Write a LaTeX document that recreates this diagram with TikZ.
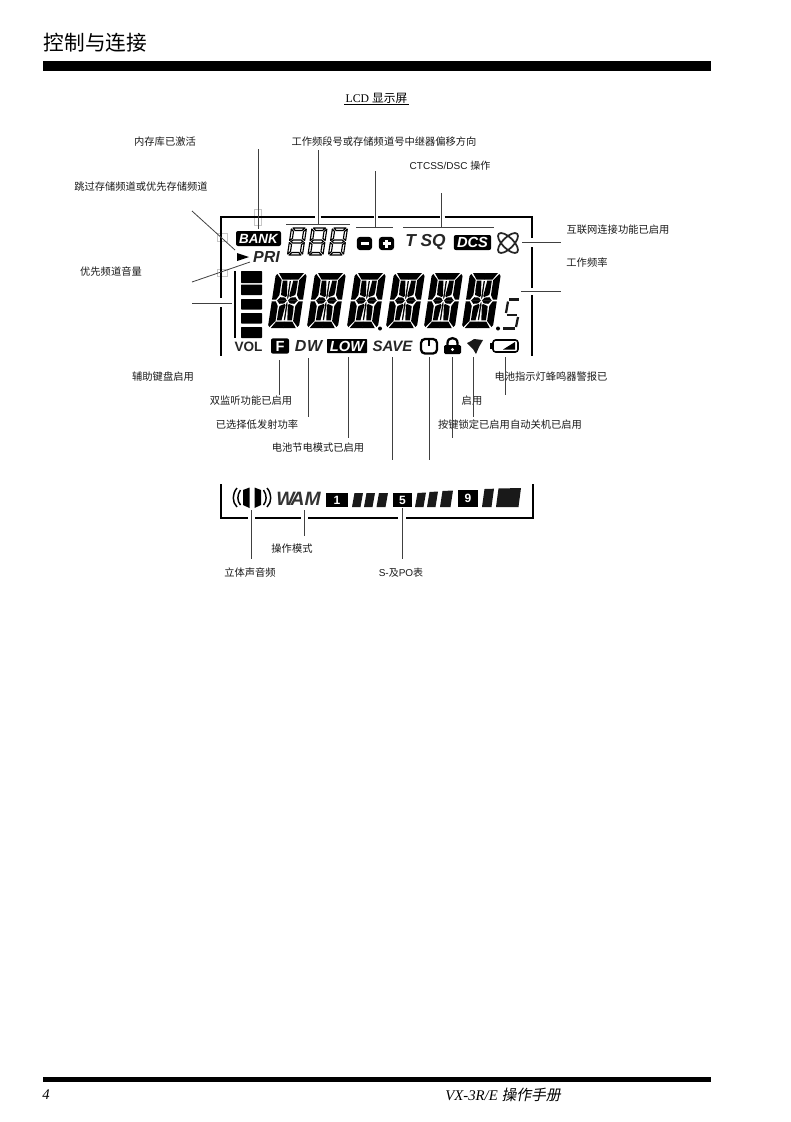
\documentclass[tikz,border=0pt]{standalone}
\usepackage{fontspec}
\setmainfont{Liberation Sans}
\newfontfamily\cjk{Noto Sans CJK SC}
\newfontfamily\cjkslant[FakeSlant=0.2]{Noto Sans CJK SC}
\newfontfamily\serifit{Liberation Serif}
\usepackage{tikz}
\newcommand{\lcdquad}{%
  \fill (3,0) -- (15.7,0) -- (15.7,6.5) -- (7.5,6.5) -- cycle
    (1.5,1) -- (6.7,7) -- (6.7,22) -- (4,26.7) -- (0,26.7) -- (0,3) -- cycle
    (5,27.7) -- (8,24.2) -- (12.7,24.6) -- (15,27.7) -- cycle
    (14.9,8) -- (15.7,8) -- (15.7,26) -- (14.9,24) -- cycle
    (8,7.7) -- (12.6,7.7) -- (14.3,23) -- (13.2,24) -- (8.5,22) -- (8,18) -- cycle;}
\begin{document}
\begin{tikzpicture}[
  x=.75pt, y=-.75pt,
  caption/.style={font=\cjk\fontsize{7.7}{9}\selectfont, text=black!90, inner sep=0pt, yshift=-.5pt},
  leader/.style={draw=black!75, line width=.6pt},
  frame/.style={draw=black, line width=1.1pt},
  ghost/.style={draw=black!22, line width=.4pt},
  lcdtext/.style={font=\bfseries\itshape\fontsize{#1}{#1}\selectfont, text=black!85, inner sep=0pt},
  lcdbox/.style={fill=black, text=white, rounded corners=1.5pt, inner sep=0pt,
    font=\bfseries\itshape\fontsize{#1}{#1}\selectfont},
  lcdbig/.pic={
    \foreach \sx/\dx in {1/0,-1/31} {
      \foreach \sy/\dy in {1/0,-1/55} {
        \begin{scope}[shift={(\dx,\dy)}, xscale=\sx, yscale=\sy]
          \lcdquad
        \end{scope}
      }
    }
  },
  lcdsmall/.pic={
    \foreach \sy/\dy in {1/0,-1/27} {
      \begin{scope}[shift={(0,\dy)}, yscale=\sy, black, line width=.85pt, line join=round]
        \draw (2,0) -- (14,0) -- (11.5,2.5) -- (4.5,2.5) -- cycle;
        \draw (.5,1) -- (3,3.5) -- (3,10.5) -- (.5,12.5) -- cycle;
        \draw (15.5,1) -- (13,3.5) -- (13,10.5) -- (15.5,12.5) -- cycle;
      \end{scope}
    }
    \draw[black, line width=.85pt] (2,13.5) -- (4,12) -- (12,12) -- (14,13.5) -- (12,15) -- (4,15) -- cycle;
  }
]
\useasboundingbox (0,0) rectangle (791,1122);

\node[font=\cjk\fontsize{15.5}{18}\selectfont, inner sep=0pt] (title) at (95.5,43) {控制与连接};
\fill (43,61) rectangle (711,71);
\node[font=\fontsize{8.8}{10}\selectfont, inner sep=1pt] (lcdtitle) at (376.5,98) {\fontspec{Liberation Serif}LCD {\cjk 显示屏}};
\draw[line width=.8pt] (lcdtitle.south west) -- (lcdtitle.south east);

\node[caption] (bankcap) at (165,141) {内存库已激活};
\node[caption] (bandcap) at (384,141) {工作频段号或存储频道号中继器偏移方向};
\node[caption] (tonecap) at (450,165) {\fontsize{7.5}{9}\selectfont\rmfamily CTCSS/DSC {\cjk 操作}};
\node[caption] (skipcap) at (141,186) {跳过存储频道或优先存储频道};
\node[caption] (netcap) at (618,229) {互联网连接功能已启用};
\node[caption] (freqcap) at (587,262) {工作频率};
\node[caption] (volcap) at (111,271) {优先频道音量};
\node[caption] (fcap) at (163,376) {辅助键盘启用};
\node[caption] (dwcap) at (251,400) {双监听功能已启用};
\node[caption] (lowcap) at (257,424) {已选择低发射功率};
\node[caption] (savecap) at (318,447) {电池节电模式已启用};
\node[caption] (lampcap) at (551,376) {电池指示灯蜂鸣器警报已};
\node[caption] (oncap) at (472,400) {启用};
\node[caption] (lockcap) at (510,424) {按键锁定已启用自动关机已启用};
\node[caption] (modecap) at (292,548) {操作模式};
\node[caption] (stereocap) at (250,572) {立体声音频};
\node[caption] (metercap) at (401,572) {\fontsize{7.5}{9}\selectfont\rmfamily S-{\cjk 及}PO{\cjk 表}};

\draw[ghost] (254,209) rectangle (261,225);
\draw[ghost] (217,233) rectangle (227,241);
\draw[ghost] (217,269) rectangle (227,276);

\draw[frame] (221,298) -- (221,217) -- (315,217);
\draw[frame] (320.5,217) -- (373.5,217);
\draw[frame] (378,217) -- (440,217);
\draw[frame] (444.5,217) -- (532,217) -- (532,238);
\draw[frame] (532,247) -- (532,288);
\draw[frame] (532,295) -- (532,356);
\draw[frame] (221,307) -- (221,356);
\draw[frame] (221,484) -- (221,518) -- (247.5,518);
\draw[frame] (255,518) -- (301,518);
\draw[frame] (308,518) -- (398,518);
\draw[frame] (406,518) -- (533,518) -- (533,484);

\foreach \name/\xa/\ya/\xb/\yb in {
  bank/258/149/258/229, band/318/150/318/224, shift/375/171/375/227, tone/441/193/441/227,
  skip/192/211/235/250, pri/192/282/250/262, vol/192/303/232/303,
  net/522/242/561/242, freq/521/291/561/291,
  f/279/360/279/395, dw/308/358/308/417, low/348/357/348/438, save/392/357/392/460,
  power/429/357/429/460, lock/452/357/452/438, bell/473/357/473/417, batt/505/357/505/395,
  stereo/251/510/251/559, mode/304/510/304/536, meter/402/508/402/559,
  digits/286/224/350/224, signs/356/227/393/227, tones/403/227/494/227} {
  \coordinate (\name a) at (\xa,\ya);
  \coordinate (\name b) at (\xb,\yb);
  \draw[leader] (\name a) -- (\name b);
}
\draw[line width=1.1pt] (235,271) -- (235,338);

\node[lcdbox=10, minimum width=33.75pt, minimum height=11.25pt] (bank) at (258.5,238.5) {BANK};
\foreach \dx in {287,307.5,328} \pic[xslant=.15] at (\dx+4,228) {lcdsmall};
\node[lcdbox=12, minimum width=11.5pt, minimum height=10pt, rounded corners=2.5pt] (minus) at (364.5,243.5) {};
\draw[white, line width=1.7pt] ([xshift=-3pt]minus.center) -- ([xshift=3pt]minus.center);
\node[lcdbox=12, minimum width=11.5pt, minimum height=10pt, rounded corners=2.5pt] (plus) at (386.5,243.5) {};
\draw[white, line width=1.7pt] ([xshift=-3pt]plus.center) -- ([xshift=3pt]plus.center)
  ([yshift=-3pt]plus.center) -- ([yshift=3pt]plus.center);
\node[lcdtext=13] (tsq) at (425.5,242) {T SQ};
\node[lcdbox=11, minimum width=28pt, minimum height=11.25pt] (dcs) at (472.5,242.5) {DCS};
\draw[black!85, line width=1.3pt, rotate around={45:(508,243)}] (508,243) ellipse [x radius=13, y radius=5.5];
\draw[black!85, line width=1.3pt, rotate around={-45:(508,243)}] (508,243) ellipse [x radius=13, y radius=5.5];

\fill[black] (237,253) -- (249,257) -- (237,261) -- cycle;
\node[lcdtext=12] (pri) at (266.5,257) {PRI};

\foreach \ya/\yb in {271/283,284.5/295,299/309.5,313/323.5,327/338} {
  \fill[rounded corners=.5pt] (241,\ya) rectangle (262,\yb);
}

\foreach \dx in {276,315,355,394,432,470} \pic[xslant=.15] at (\dx,273) {lcdbig};
\fill (380,328.5) circle (2);
\fill (498,328.5) circle (2);
\draw[line width=1.7pt, black!90] (509,299.5) -- (519,299.5);
\draw[line width=1.7pt, black!90] (508,301.5) -- (506,313);
\draw[line width=1.7pt, black!90] (506.5,315) -- (516.5,315);
\draw[line width=1.7pt, black!90] (518,317) -- (516,327);
\draw[line width=1.7pt, black!90] (503,328.5) -- (515,328.5);

\node[font=\bfseries\fontsize{10.2}{10.2}\selectfont, text=black!85, inner sep=0pt] (vol) at (248.5,346.5) {VOL};
\node[lcdbox=11, font=\bfseries\fontsize{11}{11}\selectfont, minimum width=13.5pt, minimum height=11.5pt] (fkey) at (280,346) {F};
\node[lcdtext=12] (dw) at (308.5,346) {D\hspace{.5pt}W};
\node[lcdbox=11, minimum width=30pt, minimum height=10.5pt, rounded corners=.5pt] (lowbox) at (347,346) {LOW};
\node[lcdtext=11.3] (save) at (392.5,346) {SAVE};

\draw[line width=1.7pt, rounded corners=3pt] (421,339) rectangle (437,353.5);
\draw[line width=1.7pt] (429,339) -- (429,346);

\fill[rounded corners=1pt] (444,345) rectangle (461,354);
\draw[line width=1.7pt] (447.5,346) -- (447.5,343) .. controls (447.5,336.5) and (457.5,336.5) .. (457.5,343) -- (457.5,346);
\fill[white] (452.5,349.5) circle (1.6);

\fill[black!90] (467,343) -- (471,341) -- (474,339) -- (483,340) -- (479,347) -- (476,354) -- (473,349) -- cycle;

\draw[line width=1.2pt, rounded corners=2pt] (493,340) rectangle (518,352);
\fill (490,343) rectangle (493,349);
\fill (515,342) -- (515,349.5) -- (503,349.5) -- cycle;

\fill (243,490) -- (249.5,487.5) -- (249.5,508) -- (243,505) -- cycle;
\fill (261,490) -- (254.5,487.5) -- (254.5,508) -- (261,505) -- cycle;
\draw[line width=1.1pt] (237,488) .. controls (232,494) and (232,502) .. (237,507);
\draw[line width=1.1pt] (240.5,490) .. controls (237,495) and (237,501) .. (240.5,505);
\draw[line width=1.1pt] (263.5,490) .. controls (267,495) and (267,501) .. (263.5,505);
\draw[line width=1.1pt] (267,488) .. controls (272,494) and (272,502) .. (267,507);
\node[lcdtext=14.5, text=black!80] (wam) at (298.5,499) {W\hspace{-3pt}AM};

\foreach \xa/\xb/\ya in {326/348/493,393/412/493,458/478/489.5} {
  \fill (\xa,\ya) rectangle (\xb,507);
}
\foreach \xa/\xb/\ya/\yb in {352/362/493/493,364/374/493/493,376.5/387/493/493,415/425/493/492.5,
  427/437/492/491.5,440/452/491/490.5,482/493/489/488.7,496/520/488.5/488} {
  \fill[black!90] (\xa+2.5,\ya) -- (\xb+1,\yb) -- (\xb-1.5,507) -- (\xa,507) -- cycle;
}
\node[font=\bfseries\fontsize{9}{9}\selectfont, text=white, inner sep=0pt] (one) at (337,500) {1};
\node[font=\bfseries\fontsize{9}{9}\selectfont, text=white, inner sep=0pt] (five) at (402.5,500) {5};
\node[font=\bfseries\fontsize{9}{9}\selectfont, text=white, inner sep=0pt] (nine) at (468,498.5) {9};

\fill (43,1077) rectangle (711,1082);
\node[font=\serifit\itshape\fontsize{11}{12}\selectfont, inner sep=0pt] (page) at (46,1095) {4};
\node[font=\fontsize{11.1}{12}\selectfont, inner sep=0pt] (manual) at (503,1095) {\fontspec{Liberation Serif}[Ligatures=TeX]\itshape VX-3R/E {\cjkslant 操作手册}};
\end{tikzpicture}
\end{document}
